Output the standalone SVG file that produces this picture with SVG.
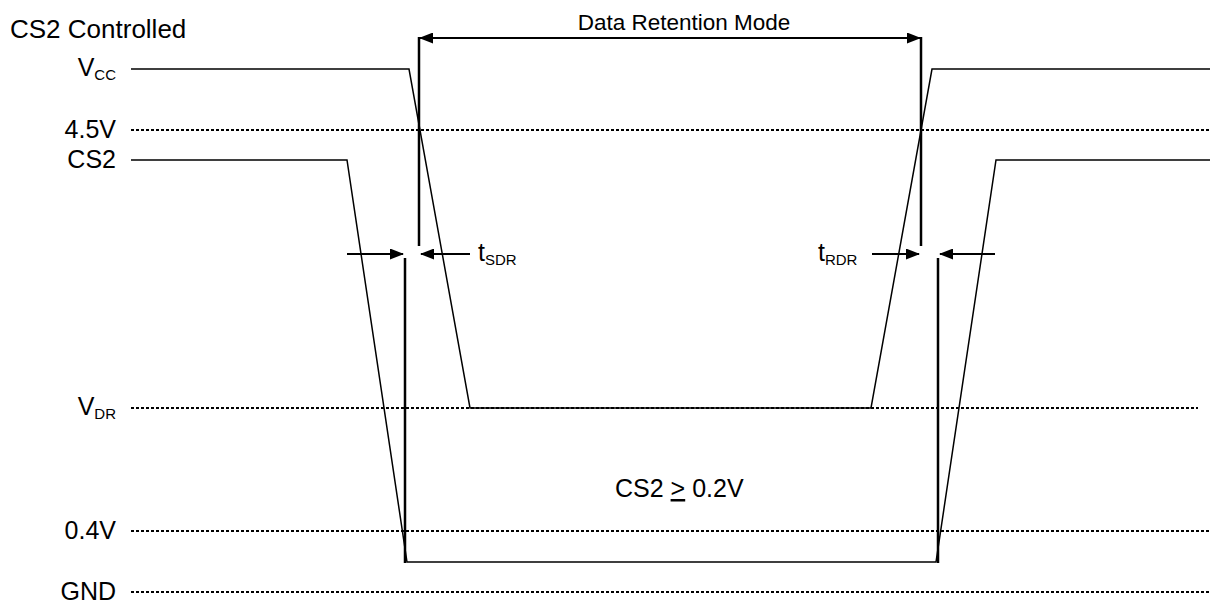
<svg xmlns="http://www.w3.org/2000/svg" width="1214" height="606" viewBox="0 0 1214 606">
  <style>
    text { font-family: "Liberation Sans", Arial, sans-serif; fill: #000; }
    .lbl { font-size: 25px; }
    .sub { font-size: 15px; }
    .ref { fill: none; stroke: #000; stroke-width: 2; stroke-dasharray: 3 2; }
    .sig { fill: none; stroke: #000; stroke-width: 1.5; }
    .mark { fill: none; stroke: #000; stroke-width: 2.5; }
    .dim { fill: none; stroke: #000; stroke-width: 2; }
  </style>
  <defs>
    <marker id="ah" markerWidth="14" markerHeight="11" refX="13" refY="5.5" orient="auto-start-reverse" markerUnits="userSpaceOnUse">
      <path d="M0,0 L14,5.5 L0,11 Z" fill="#000"/>
    </marker>
  </defs>

  <rect width="1214" height="606" fill="#fff"/>

  <text id="title" class="lbl" x="10" y="38" style="font-size:26px">CS2 Controlled</text>

  <!-- level labels -->
  <g id="labels" class="lbl" text-anchor="end">
    <text x="116" y="76">V<tspan class="sub" dy="4">CC</tspan></text>
    <text x="116" y="138">4.5V</text>
    <text x="116" y="168">CS2</text>
    <text x="116" y="415">V<tspan class="sub" dy="4">DR</tspan></text>
    <text x="116" y="539">0.4V</text>
    <text x="116" y="600">GND</text>
  </g>

  <!-- reference levels -->
  <g id="levels">
    <line class="ref" x1="131" y1="130" x2="1210" y2="130"/>
    <line class="ref" x1="131" y1="408" x2="1198" y2="408"/>
    <line class="ref" x1="131" y1="531" x2="1210" y2="531"/>
    <line class="ref" x1="131" y1="592" x2="1210" y2="592"/>
  </g>

  <!-- waveforms -->
  <g id="vcc">
    <polyline class="sig" points="131,69 409,69 470,408 871,408 932,69 1210,69"/>
  </g>
  <g id="cs2">
    <polyline class="sig" points="131,160 347,160 407,562 936,562 996,160 1210,160"/>
  </g>

  <!-- timing marks and dimension arrows -->
  <g id="connectors">
    <line class="mark" x1="419" y1="37" x2="419" y2="246"/>
    <line class="mark" x1="921" y1="37" x2="921" y2="246"/>
    <line class="mark" x1="405" y1="258" x2="405" y2="563"/>
    <line class="mark" x1="938" y1="258" x2="938" y2="563"/>

    <line class="dim" x1="420" y1="38" x2="920" y2="38" marker-start="url(#ah)" marker-end="url(#ah)"/>

    <line class="dim" x1="347" y1="254" x2="403" y2="254" marker-end="url(#ah)"/>
    <line class="dim" x1="470" y1="254" x2="421" y2="254" marker-end="url(#ah)"/>
    <line class="dim" x1="872" y1="254" x2="919" y2="254" marker-end="url(#ah)"/>
    <line class="dim" x1="995" y1="254" x2="940" y2="254" marker-end="url(#ah)"/>
  </g>

  <text id="drm" class="lbl" x="684" y="30" text-anchor="middle" style="font-size:22.5px">Data Retention Mode</text>
  <text id="tsdr" class="lbl" x="478" y="261">t<tspan class="sub" dy="4">SDR</tspan></text>
  <text id="trdr" class="lbl" x="818" y="261">t<tspan class="sub" dy="4">RDR</tspan></text>
  <text id="cond" class="lbl" x="615" y="497">CS2 <tspan text-decoration="underline">&gt;</tspan> 0.2V</text>
</svg>
